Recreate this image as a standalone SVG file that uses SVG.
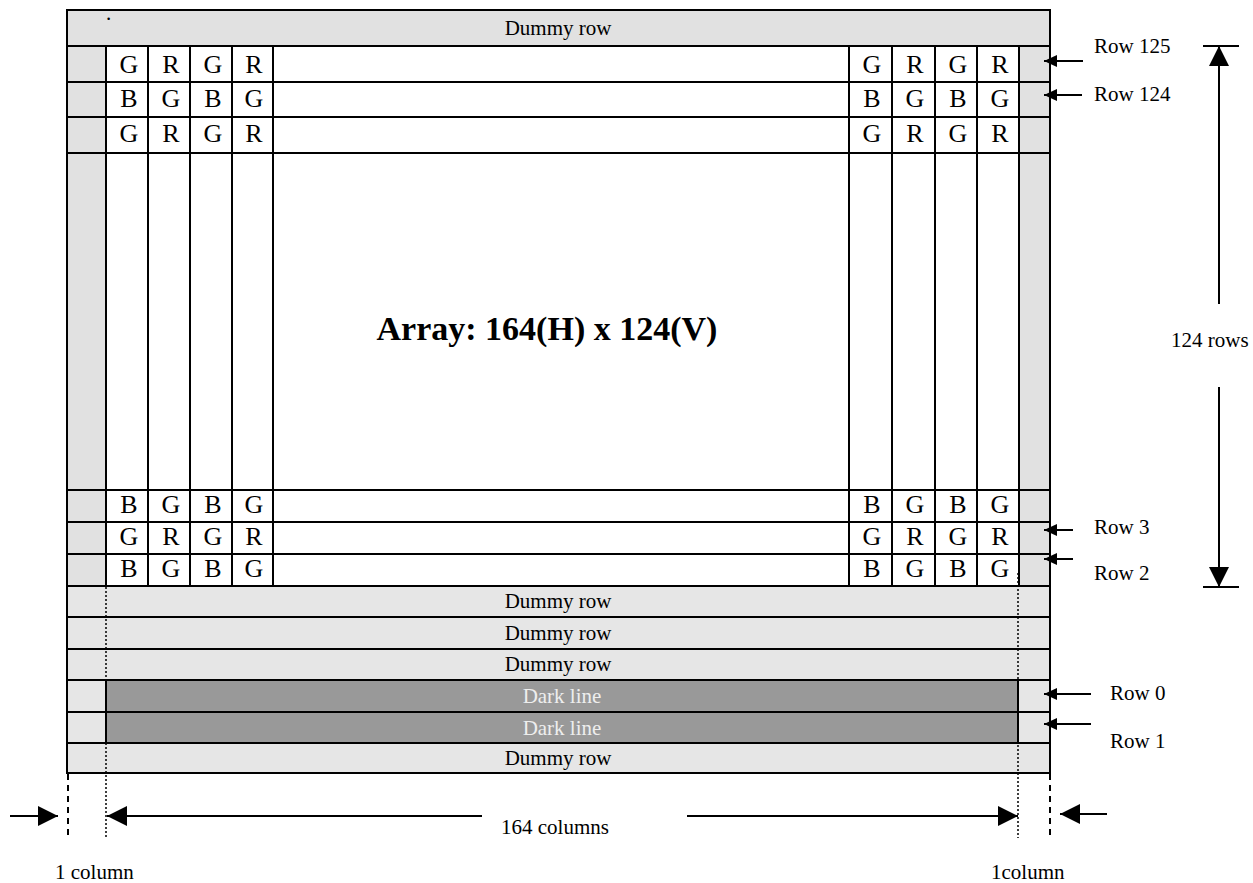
<svg xmlns="http://www.w3.org/2000/svg" width="1253" height="883" viewBox="0 0 1253 883">
<style>
.g{stroke:#000;stroke-width:2;fill:none}
.t{font-family:"Liberation Serif","Times New Roman",serif;font-size:21px;fill:#000}
.c{font-family:"Liberation Serif","Times New Roman",serif;font-size:26px;fill:#000;text-anchor:middle}
.m{text-anchor:middle}
.w{fill:#eeeeee}
.ln{stroke:#000;stroke-width:2;fill:none}
.dot{stroke:#000;stroke-width:1.5;stroke-dasharray:2 2;fill:none}
.dash{stroke:#000;stroke-width:2;stroke-dasharray:6 5;fill:none}
</style>
<defs>
<marker id="sm" markerUnits="userSpaceOnUse" markerWidth="14" markerHeight="14" refX="13" refY="6" orient="auto"><path d="M0,0 L13,6 L0,12 Z" fill="#000"/></marker>
<marker id="bg" markerUnits="userSpaceOnUse" markerWidth="22" markerHeight="22" refX="20" refY="10" orient="auto"><path d="M0,0 L20,10 L0,20 Z" fill="#000"/></marker>
</defs>
<g id="array">
<rect x="67" y="10" width="983" height="36" fill="#e1e1e1"/>
<rect x="67" y="46" width="39" height="540" fill="#e1e1e1"/>
<rect x="1019" y="46" width="31" height="540" fill="#e1e1e1"/>
<rect x="106" y="46" width="913" height="540" fill="#fff"/>
<rect x="67" y="586" width="983" height="187" fill="#e6e6e6"/>
<rect x="106" y="680" width="912" height="63" fill="#999999"/>
<path class="g" d="M67,46H1050M67,82H1050M67,117H1050M67,153H1050M67,490H1050M67,522H1050M67,554H1050M67,586H1050M67,617H1050M67,649H1050M67,680H1050M67,712H1050M67,743H1050"/>
<path class="g" d="M106,46V586M148,46V586M190,46V586M232,46V586M273,46V586M849,46V586M892,46V586M935,46V586M977,46V586M1019,46V586"/>
<path class="g" d="M106,680V743M1018,680V743"/>
<rect class="g" x="67" y="10" width="983" height="763"/>
<text class="t" x="106" y="20">.</text>
<text class="t m" x="558" y="35">Dummy row</text>
<text class="c" x="129" y="73">G</text><text class="c" x="171" y="73">R</text><text class="c" x="213" y="73">G</text><text class="c" x="254" y="73">R</text>
<text class="c" x="129" y="107">B</text><text class="c" x="171" y="107">G</text><text class="c" x="213" y="107">B</text><text class="c" x="254" y="107">G</text>
<text class="c" x="129" y="142">G</text><text class="c" x="171" y="142">R</text><text class="c" x="213" y="142">G</text><text class="c" x="254" y="142">R</text>
<text class="c" x="872" y="73">G</text><text class="c" x="915" y="73">R</text><text class="c" x="958" y="73">G</text><text class="c" x="1000" y="73">R</text>
<text class="c" x="872" y="107">B</text><text class="c" x="915" y="107">G</text><text class="c" x="958" y="107">B</text><text class="c" x="1000" y="107">G</text>
<text class="c" x="872" y="142">G</text><text class="c" x="915" y="142">R</text><text class="c" x="958" y="142">G</text><text class="c" x="1000" y="142">R</text>
<text class="c" x="129" y="513">B</text><text class="c" x="171" y="513">G</text><text class="c" x="213" y="513">B</text><text class="c" x="254" y="513">G</text>
<text class="c" x="129" y="545">G</text><text class="c" x="171" y="545">R</text><text class="c" x="213" y="545">G</text><text class="c" x="254" y="545">R</text>
<text class="c" x="129" y="577">B</text><text class="c" x="171" y="577">G</text><text class="c" x="213" y="577">B</text><text class="c" x="254" y="577">G</text>
<text class="c" x="872" y="513">B</text><text class="c" x="915" y="513">G</text><text class="c" x="958" y="513">B</text><text class="c" x="1000" y="513">G</text>
<text class="c" x="872" y="545">G</text><text class="c" x="915" y="545">R</text><text class="c" x="958" y="545">G</text><text class="c" x="1000" y="545">R</text>
<text class="c" x="872" y="577">B</text><text class="c" x="915" y="577">G</text><text class="c" x="958" y="577">B</text><text class="c" x="1000" y="577">G</text>
<text x="547" y="340" style="font-family:'Liberation Serif','Times New Roman',serif;font-size:34px;font-weight:bold;text-anchor:middle">Array: 164(H) x 124(V)</text>
<text class="t m" x="558" y="608">Dummy row</text>
<text class="t m" x="558" y="640">Dummy row</text>
<text class="t m" x="558" y="671">Dummy row</text>
<text class="t m w" x="562" y="703">Dark line</text>
<text class="t m w" x="562" y="735">Dark line</text>
<text class="t m" x="558" y="765">Dummy row</text>
</g>
<g id="connectors">
<path class="dot" d="M106,571V838M1018,573V838"/>
<path class="dash" d="M68,774V838M1050,774V838"/>
<path class="ln" marker-end="url(#sm)" d="M1083,61H1044"/>
<path class="ln" marker-end="url(#sm)" d="M1082,95H1044"/>
<path class="ln" marker-end="url(#sm)" d="M1073,530H1044"/>
<path class="ln" marker-end="url(#sm)" d="M1073,559H1044"/>
<path class="ln" marker-end="url(#sm)" d="M1091,694H1044"/>
<path class="ln" marker-end="url(#sm)" d="M1091,724H1044"/>
<path class="ln" d="M1203,46H1239M1203,587H1239"/>
<path class="ln" marker-end="url(#bg)" d="M1219,304V46"/>
<path class="ln" marker-end="url(#bg)" d="M1219,387V587"/>
<path class="ln" marker-end="url(#bg)" d="M10,816H58"/>
<path class="ln" marker-end="url(#bg)" d="M482,816H107"/>
<path class="ln" marker-end="url(#bg)" d="M687,816H1018"/>
<path class="ln" marker-end="url(#bg)" d="M1107,814H1060"/>
</g>
<g id="labels">
<text class="t" x="1094" y="53">Row 125</text>
<text class="t" x="1094" y="101">Row 124</text>
<text class="t" x="1094" y="534">Row 3</text>
<text class="t" x="1094" y="580">Row 2</text>
<text class="t" x="1110" y="700">Row 0</text>
<text class="t" x="1110" y="748">Row 1</text>
<text class="t" x="1171" y="347">124 rows</text>
<text class="t m" x="555" y="834">164 columns</text>
<text class="t" x="55" y="879">1 column</text>
<text class="t" x="991" y="879">1column</text>
</g>
</svg>
